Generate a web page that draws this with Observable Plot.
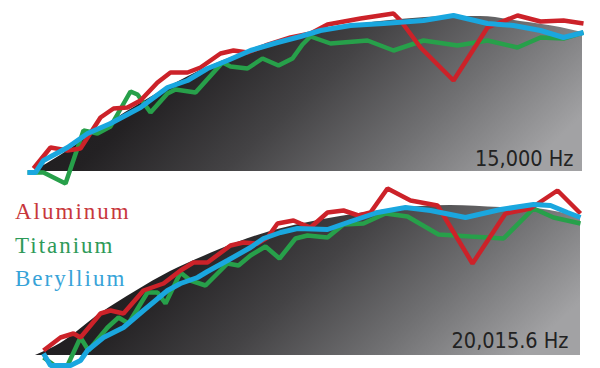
<!DOCTYPE html>
<html>
<head>
<meta charset="utf-8">
<script src="https://cdn.jsdelivr.net/npm/d3@7"></script>
<script src="https://cdn.jsdelivr.net/npm/@observablehq/plot@0.6"></script>
<style>
  html, body { margin: 0; padding: 0; background: #ffffff; }
  #wrap { position: relative; width: 600px; height: 368px; overflow: hidden; }
  #wrap svg { display: block; }
  .leg { position: absolute; left: 15px; font-family: "Liberation Serif", "DejaVu Serif", serif; font-size: 23px; line-height: 23px; letter-spacing: 2px; white-space: nowrap; }
</style>
</head>
<body>
<div id="wrap"></div>
<script>
// ---- Data (x = band position, level = height above the panel floor) ----
const panelLabels = ["15,000 Hz", "20,015.6 Hz"];
const seriesNames = ["Aluminum", "Titanium", "Beryllium"];
const seriesColors = ["#cc2229", "#27a04a", "#1aa7df"];
const legendColors = ["#c8373c", "#2e9a58", "#37a3d8"];

// Panel 1 (15,000 Hz)
const envelope1 = [[33,0],[60,16],[100,43],[150,74],[200,101],[250,121],[300,136],[350,146],[400,152],[450,155],[480,155],[520,150],[560,144],[582,139]];
const aluminum1 = [[33,3],[50,24],[67,21],[80,23],[100,54],[113,63],[127,64],[140,71],[157,89],[170,99],[187,99],[200,104],[220,118],[233,121],[247,119],[265,126],[290,134],[310,138],[327,147],[360,153],[393,158],[400,151],[420,124],[453,91],[487,144],[517,156],[540,150],[563,151],[583,148]];
const titanium1 = [[27,-1],[43,-1],[65,-12],[83,41],[97,38],[110,45],[130,80],[137,77],[150,59],[167,78],[175,82],[195,79],[222,109],[230,105],[247,103],[262,113],[278,106],[292,113],[302,127],[310,135],[330,128],[367,131],[393,121],[423,131],[457,126],[487,131],[517,124],[540,134],[563,133],[583,139]];
const beryllium1 = [[27,-1],[35,-1],[43,11],[67,24],[87,38],[110,48],[140,64],[167,84],[187,91],[207,103],[227,111],[250,121],[277,129],[300,135],[320,141],[350,146],[383,148],[423,151],[453,156],[487,148],[513,146],[540,141],[563,134],[583,139]];

// Panel 2 (20,015.6 Hz)
const envelope2 = [[35,0],[60,12],[100,42],[135,64],[170,84],[203,99],[237,113],[270,124],[303,132],[340,139],[380,145],[420,149],[450,150],[500,148],[533,147],[560,143],[580,138]];
const aluminum2 = [[43,5],[60,18],[73,22],[80,18],[100,42],[110,45],[123,42],[143,65],[163,72],[180,85],[193,93],[207,93],[230,110],[243,113],[257,112],[267,118],[277,132],[293,135],[300,132],[310,128],[327,143],[343,145],[358,140],[370,143],[387,167],[410,155],[437,150],[472,92],[505,142],[530,147],[557,165],[580,142]];
const titanium2 = [[43,-2],[57,-12],[67,-10],[80,18],[88,5],[107,28],[118,38],[128,32],[147,63],[157,63],[165,52],[180,83],[190,75],[205,70],[227,92],[238,90],[250,100],[265,109],[279,97],[295,117],[307,120],[327,118],[343,131],[363,132],[385,142],[407,139],[438,121],[470,119],[503,117],[533,147],[553,138],[580,132]];
const beryllium2 = [[43,2],[50,-10],[70,-10],[80,-5],[87,5],[103,18],[123,28],[143,45],[167,65],[180,72],[197,78],[207,84],[227,95],[250,108],[263,117],[280,123],[297,127],[327,126],[350,134],[377,143],[405,148],[430,145],[465,138],[500,146],[533,151],[550,150],[567,143],[580,138]];

const panels = [
  {label: panelLabels[0], envelope: envelope1, series: [titanium1, aluminum1, beryllium1], order: [1, 0, 2], dx: -27, dy: -19},
  {label: panelLabels[1], envelope: envelope2, series: [titanium2, aluminum2, beryllium2], order: [1, 0, 2], dx: -32, dy: -21}
];

const wrap = document.getElementById("wrap");

panels.forEach((p, i) => {
  const gid = "shade" + i;
  const rows = (arr) => arr.map(([x, level]) => ({x, level}));
  const lineMarks = p.series.map((s, k) =>
    Plot.line(rows(s), {x: "x", y: "level", stroke: seriesColors[p.order[k]], strokeWidth: p.order[k] === 2 ? 5 : 4.5, strokeLinejoin: "miter", strokeLinecap: "butt", curve: "linear"})
  );
  const chart = Plot.plot({
    width: 600,
    height: 184,
    margin: 0,
    x: {domain: [0, 600], axis: null},
    y: {domain: [-13, 171], axis: null},
    marks: [
      Plot.areaY(rows(p.envelope), {x: "x", y1: 0, y2: "level", fill: `url(#${gid})`, curve: "monotone-x"}),
      ...lineMarks,
      Plot.text([p.label], {frameAnchor: "bottom-right", dx: p.dx, dy: p.dy, text: d => d, textAnchor: "end", lineAnchor: "bottom", fontSize: 21.5, fontFamily: "'Liberation Sans Narrow', 'DejaVu Sans Condensed', sans-serif", fill: "#222"})
    ]
  });
  const ns = "http://www.w3.org/2000/svg";
  const defs = document.createElementNS(ns, "defs");
  const grad = document.createElementNS(ns, "linearGradient");
  grad.setAttribute("id", gid);
  grad.setAttribute("x1", "0"); grad.setAttribute("y1", "0.35");
  grad.setAttribute("x2", "1"); grad.setAttribute("y2", "0.65");
  [["0", "#1c1a1b"], ["0.25", "#232123"], ["0.5", "#444345"], ["0.75", "#707072"], ["1", "#a2a2a4"]].forEach(([o, c]) => {
    const st = document.createElementNS(ns, "stop");
    st.setAttribute("offset", o); st.setAttribute("stop-color", c);
    grad.appendChild(st);
  });
  defs.appendChild(grad);
  chart.insertBefore(defs, chart.firstChild);
  chart.style.overflow = "visible";
  wrap.appendChild(chart);
});

// Legend
const legendBaselines = [218, 252, 285];
seriesNames.forEach((name, i) => {
  const d = document.createElement("div");
  d.className = "leg";
  d.textContent = name;
  d.style.color = legendColors[i];
  d.style.top = (legendBaselines[i] - 18) + "px";
  wrap.appendChild(d);
});
</script>
</body>
</html>
